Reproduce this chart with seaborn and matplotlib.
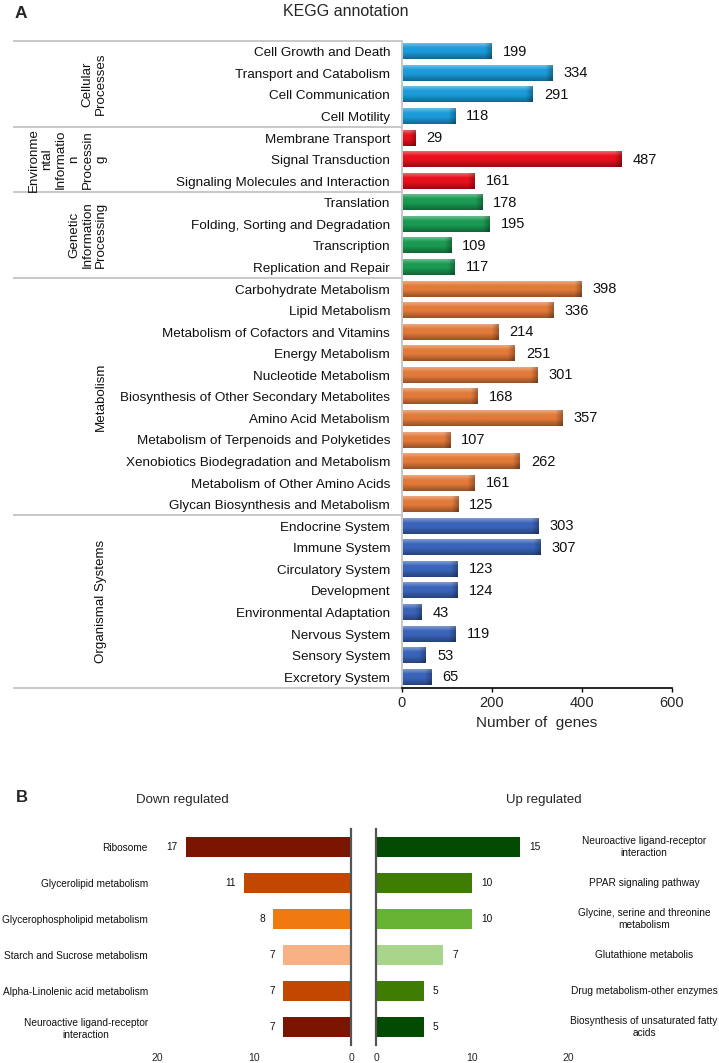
import numpy as np
import pandas as pd
import matplotlib
matplotlib.use("Agg")
import matplotlib.pyplot as plt
import matplotlib.colors as mcolors
from matplotlib.transforms import blended_transform_factory
import seaborn as sns

# ---------------- data ----------------
kegg_categories = [
    "Cell Growth and Death", "Transport and Catabolism", "Cell Communication", "Cell Motility",
    "Membrane Transport", "Signal Transduction", "Signaling Molecules and Interaction",
    "Translation", "Folding, Sorting and Degradation", "Transcription", "Replication and Repair",
    "Carbohydrate Metabolism", "Lipid Metabolism", "Metabolism of Cofactors and Vitamins",
    "Energy Metabolism", "Nucleotide Metabolism", "Biosynthesis of Other Secondary Metabolites",
    "Amino Acid Metabolism", "Metabolism of Terpenoids and Polyketides",
    "Xenobiotics Biodegradation and Metabolism", "Metabolism of Other Amino Acids",
    "Glycan Biosynthesis and Metabolism",
    "Endocrine System", "Immune System", "Circulatory System", "Development",
    "Environmental Adaptation", "Nervous System", "Sensory System", "Excretory System",
]
kegg_values = [199, 334, 291, 118,
               29, 487, 161,
               178, 195, 109, 117,
               398, 336, 214, 251, 301, 168, 357, 107, 262, 161, 125,
               303, 307, 123, 124, 43, 119, 53, 65]
group_labels = ["Cellular\nProcesses",
                "Environme\nntal\nInformatio\nn\nProcessin\ng",
                "Genetic\nInformation\nProcessing",
                "Metabolism",
                "Organismal Systems"]
group_sizes = [4, 3, 4, 11, 8]
group_colors = ["#1b9bd9", "#e8101c", "#1a9a52", "#e27a3a", "#3a64b9"]
kegg_ticks = [0, 200, 400, 600]

down_labels = ["Ribosome", "Glycerolipid metabolism", "Glycerophospholipid metabolism",
               "Starch and Sucrose metabolism", "Alpha-Linolenic acid metabolism",
               "Neuroactive ligand-receptor\ninteraction"]
down_values = [17, 11, 8, 7, 7, 7]
down_colors = ["#7a1500", "#c24700", "#f07a10", "#f8b184", "#c24700", "#7a1500"]

up_labels = ["Neuroactive ligand-receptor\ninteraction", "PPAR signaling pathway",
             "Glycine, serine and threonine\nmetabolism", "Glutathione metabolis",
             "Drug metabolism-other enzymes", "Biosynthesis of unsaturated fatty\nacids"]
up_values = [15, 10, 10, 7, 5, 5]
up_colors = ["#034a03", "#3e7d02", "#66b233", "#a8d58b", "#3e7d02", "#034a03"]
b_ticks = [0, 10, 20]

# ---------------- style ----------------
sns.set_style("white")
plt.rcParams["font.family"] = ["Liberation Sans", "DejaVu Sans"]

W, H = 719, 1063
fig = plt.figure(figsize=(W / 100, H / 100), dpi=100)


def fx(px):
    return px / W


def fy(py):
    return 1 - py / H


# ---------------- panel A ----------------
bar_colors = []
for c, n in zip(group_colors, group_sizes):
    bar_colors += [c] * n
dfA = pd.DataFrame({"category": kegg_categories, "value": kegg_values})

axA = fig.add_axes([fx(402), fy(688), fx(672) - fx(402), fy(41) - fy(688)])
sns.barplot(data=dfA, x="value", y="category", hue="category", palette=bar_colors,
            legend=False, orient="h", width=0.7, linewidth=0, saturation=1, ax=axA)
axA.set_xlim(0, 600)
axA.set_ylim(len(kegg_categories) - 0.5, -0.5)

# gradient shading over each bar (3D look)
px_per_unit = (axA.transData.transform((600, 0))[0] - axA.transData.transform((0, 0))[0]) / 600
for p in list(axA.patches):
    x0, y0, w, h = p.get_x(), p.get_y(), p.get_width(), p.get_height()
    if w <= 0:
        continue
    base = np.array(mcolors.to_rgb(p.get_facecolor()))
    ny, nx = 40, 300
    t = np.linspace(0, 1, ny)
    prof = np.where(t < 0.3, 0.35 * (1 - t / 0.3),
                    np.where(t < 0.55, 0.0, -0.33 * (t - 0.55) / 0.45))
    col = np.empty((ny, 3))
    for i, v in enumerate(prof):
        col[i] = base + (1 - base) * v if v > 0 else base * (1 + v)
    img = np.repeat(col[:, None, :], nx, axis=1)
    frac = min(0.45, 7.0 / (w * px_per_unit))
    u = np.linspace(0, 1, nx)
    dark = np.clip((u - (1 - frac)) / frac, 0, 1) * 0.3
    img = img * (1 - dark[None, :, None])
    axA.imshow(np.clip(img, 0, 1), extent=(x0, x0 + w, y0 + h, y0), aspect="auto",
               interpolation="bilinear", zorder=p.get_zorder() + 0.1)
axA.set_xlim(0, 600)
axA.set_ylim(len(kegg_categories) - 0.5, -0.5)

for i, v in enumerate(kegg_values):
    axA.annotate(str(v), xy=(v, i), xytext=(8, 0), textcoords="offset points",
                 ha="left", va="center", fontsize=10.5, color="#111111", zorder=5)

axA.set_xticks(kegg_ticks)
axA.set_xticklabels([str(t) for t in kegg_ticks])
axA.tick_params(axis="x", direction="out", length=3, width=1, color="black",
                labelsize=10.5, pad=3, bottom=True)
axA.tick_params(axis="y", length=0, pad=8.6, labelsize=9.7)
for lbl in axA.get_yticklabels():
    lbl.set_color("#111111")
axA.set_ylabel("")
axA.set_xlabel("Number of  genes", fontsize=11, labelpad=4)
for s in ["top", "right"]:
    axA.spines[s].set_visible(False)
axA.spines["bottom"].set_color("black")
axA.spines["bottom"].set_linewidth(1.2)
axA.spines["left"].set_color("#c8c8c8")
axA.spines["left"].set_linewidth(1.4)

# group separators and group labels
tr = blended_transform_factory(fig.transFigure, axA.transData)
bounds = np.concatenate([[0], np.cumsum(group_sizes)]) - 0.5
for b in bounds:
    axA.plot([fx(13), fx(402)], [b, b], transform=tr, color="#c8c8c8", lw=1.4,
             clip_on=False, solid_capstyle="butt")
for k, lab in enumerate(group_labels):
    yc = (bounds[k] + bounds[k + 1]) / 2
    axA.text(fx(107), yc, lab, transform=tr, rotation=90, ha="right", va="center",
             multialignment="center", fontsize=9.6, linespacing=1.15, color="#111111")

fig.text(fx(21), fy(13), "A", fontsize=12.5, fontweight="bold", ha="center", va="center")
fig.text(fx(346), fy(11), "KEGG annotation", fontsize=11.5, ha="center", va="center")

# ---------------- panel B ----------------
b_top, b_bot = 829, 1045
axL = fig.add_axes([fx(157), fy(b_bot), fx(351) - fx(157), fy(b_top) - fy(b_bot)])
axR = fig.add_axes([fx(376), fy(b_bot), fx(568) - fx(376), fy(b_top) - fy(b_bot)])

dfD = pd.DataFrame({"label": down_labels, "value": down_values})
dfU = pd.DataFrame({"label": up_labels, "value": up_values})
sns.barplot(data=dfD, x="value", y="label", hue="label", palette=down_colors, legend=False,
            orient="h", width=0.58, linewidth=0, saturation=1, ax=axL)
sns.barplot(data=dfU, x="value", y="label", hue="label", palette=up_colors, legend=False,
            orient="h", width=0.58, linewidth=0, saturation=1, ax=axR)

axL.set_xlim(20, 0)
axR.set_xlim(0, 20)
for ax in (axL, axR):
    ax.set_ylim(len(down_labels) - 0.5, -0.5)
    ax.set_xticks(b_ticks)
    ax.set_xticklabels([str(t) for t in b_ticks])
    ax.tick_params(axis="x", length=0, pad=6, labelsize=7.5)
    ax.set_xlabel("")
    ax.set_ylabel("")
    for s in ["top", "bottom", "left", "right"]:
        ax.spines[s].set_visible(False)

axL.spines["right"].set_visible(True)
axL.spines["right"].set_color("#555555")
axL.spines["right"].set_linewidth(1.6)
axR.spines["left"].set_visible(True)
axR.spines["left"].set_color("#555555")
axR.spines["left"].set_linewidth(1.6)

axL.tick_params(axis="y", length=0, pad=6.5, labelsize=7.3)
for lbl in axL.get_yticklabels():
    lbl.set_multialignment("center")
    lbl.set_color("#111111")
axR.set_yticks(range(len(up_labels)))
axR.set_yticklabels([])
axR.tick_params(axis="y", length=0)

for i, v in enumerate(down_values):
    axL.annotate(str(v), xy=(v, i), xytext=(-6, 0), textcoords="offset points",
                 ha="right", va="center", fontsize=7.3, color="#111111")
for i, v in enumerate(up_values):
    axR.annotate(str(v), xy=(v, i), xytext=(6.5, 0), textcoords="offset points",
                 ha="left", va="center", fontsize=7.3, color="#111111")

trR = blended_transform_factory(fig.transFigure, axR.transData)
for i, lab in enumerate(up_labels):
    axR.text(fx(644), i, lab, transform=trR, ha="center", va="center",
             multialignment="center", fontsize=7.3, color="#111111", clip_on=False)

fig.text(fx(22), fy(798), "B", fontsize=12, fontweight="bold", ha="center", va="center")
fig.text(fx(182), fy(800), "Down regulated", fontsize=9.5, ha="center", va="center")
fig.text(fx(544), fy(800), "Up regulated", fontsize=9.5, ha="center", va="center")

fig.savefig("out.png", dpi=100)
